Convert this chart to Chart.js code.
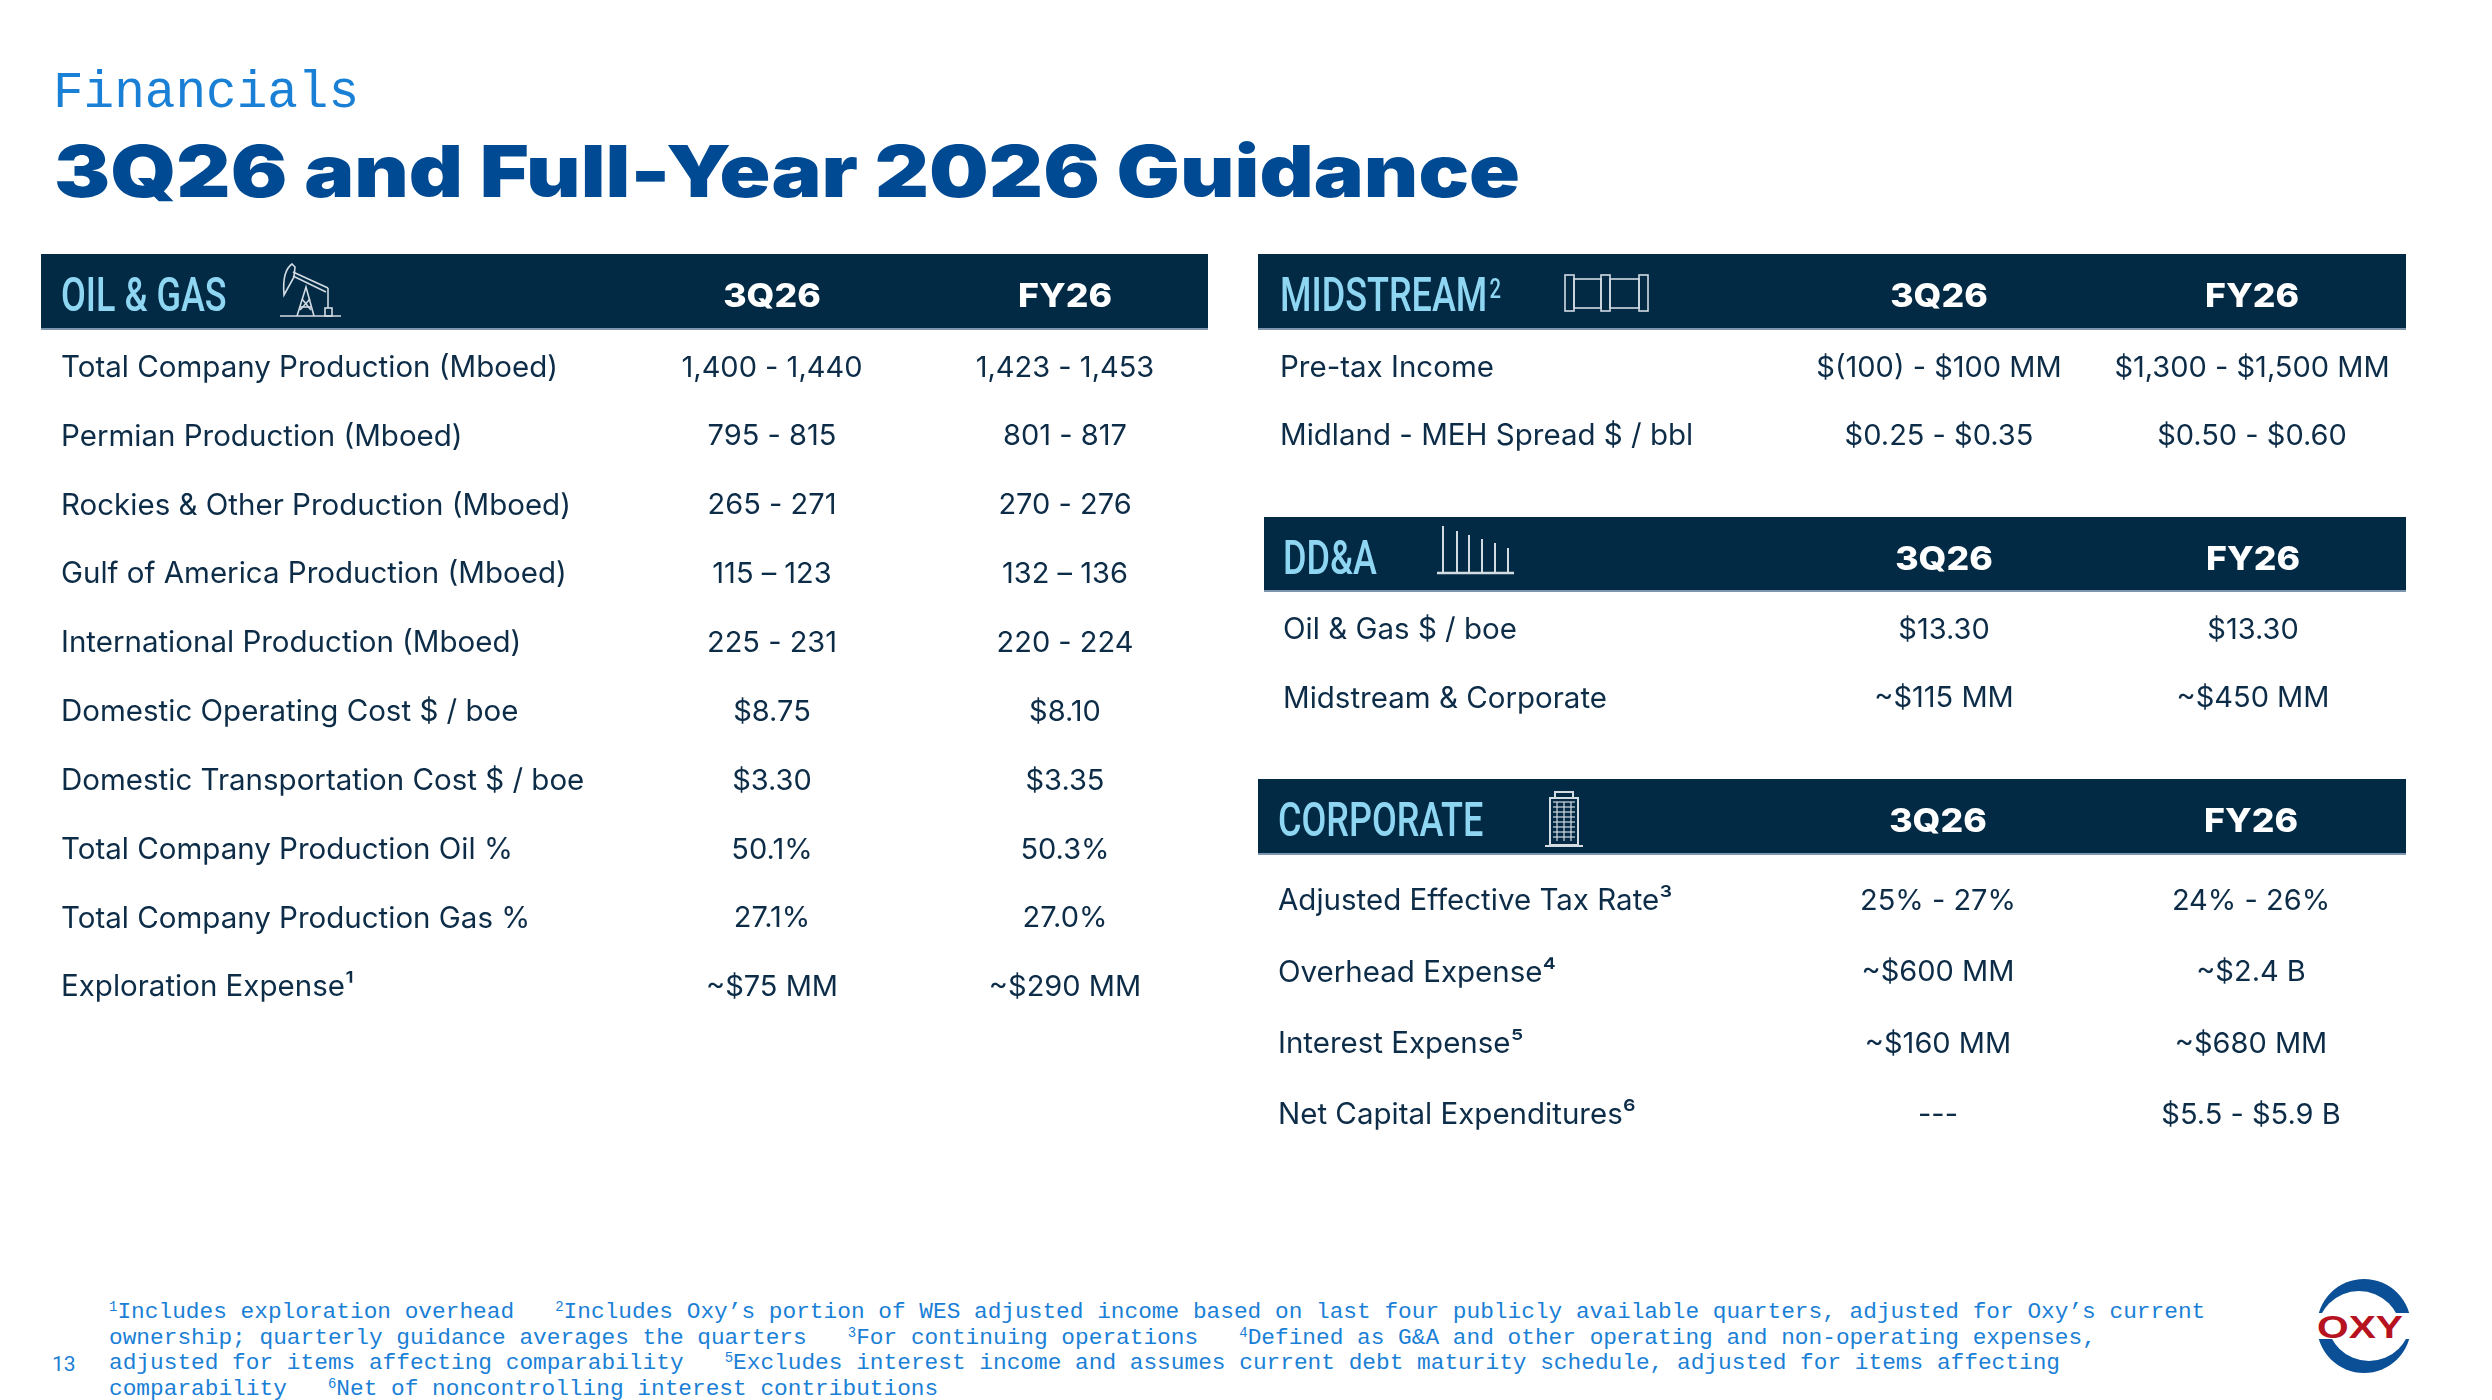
<!DOCTYPE html>
<html>
<head>
<meta charset="utf-8">
<title>3Q26 and Full-Year 2026 Guidance</title>
<script src="https://cdn.jsdelivr.net/npm/chart.js@4.4.1/dist/chart.umd.min.js"></script>
<style>
  html, body { margin: 0; padding: 0; background: #fff; }
  body { width: 2492px; height: 1400px; position: relative; overflow: hidden; }
  .kicker { position: absolute; left: 53px; top: 68px; font: 51px/51px "Liberation Mono", monospace; color: #1a80d6; white-space: nowrap; }
  .title { position: absolute; left: 54px; top: 135px; font: 900 72px/72px Inter, sans-serif; color: #004a93; white-space: nowrap; transform-origin: 0 0; }
  .tbl { position: absolute; }
  .notes { position: absolute; left: 109px; top: 1300px; font: 22.8px/25.5px "Liberation Mono", monospace; color: #1a80d6; white-space: pre; }
  .notes .s { font-size: 14px; line-height: 0; position: relative; top: -7px; }
  .page { position: absolute; left: 52px; top: 1354px; font: 21px/21px Roboto, sans-serif; color: #1a80d6; }
  .logo { position: absolute; left: 2300px; top: 1270px; }
</style>
</head>
<body>
<div class="kicker">Financials</div>
<div class="title" id="title">3Q26 and Full-Year 2026 Guidance</div>

<div class="tbl" style="left:41px; top:254px; width:1167px; height:788px;"><canvas id="oilGas"></canvas></div>
<div class="tbl" style="left:1258px; top:254px; width:1148px; height:236px;"><canvas id="midstream"></canvas></div>
<div class="tbl" style="left:1264px; top:517px; width:1142px; height:236px;"><canvas id="dda"></canvas></div>
<div class="tbl" style="left:1258px; top:779px; width:1148px; height:392px;"><canvas id="corporate"></canvas></div>

<div class="notes"><span class="s">1</span>Includes exploration overhead   <span class="s">2</span>Includes Oxy’s portion of WES adjusted income based on last four publicly available quarters, adjusted for Oxy’s current
ownership; quarterly guidance averages the quarters   <span class="s">3</span>For continuing operations   <span class="s">4</span>Defined as G&amp;A and other operating and non-operating expenses,
adjusted for items affecting comparability   <span class="s">5</span>Excludes interest income and assumes current debt maturity schedule, adjusted for items affecting
comparability   <span class="s">6</span>Net of noncontrolling interest contributions</div>
<div class="page">13</div>

<svg class="logo" width="130" height="130" viewBox="0 0 130 130">
  <defs>
    <clipPath id="topArc"><rect x="0" y="0" width="130" height="43"/></clipPath>
    <clipPath id="botArc"><rect x="0" y="69" width="130" height="61"/></clipPath>
  </defs>
  <g clip-path="url(#topArc)">
    <circle cx="64" cy="56" r="47" fill="#0b4f97"/>
    <circle cx="59" cy="63" r="42" fill="#fff"/>
  </g>
  <g clip-path="url(#botArc)">
    <circle cx="64" cy="56" r="47" fill="#0b4f97"/>
    <circle cx="69" cy="49" r="42" fill="#fff"/>
  </g>
  <text x="17" y="68" font-family="Liberation Sans, Arial, sans-serif" font-weight="700" font-size="31" fill="#b7121f" textLength="86" lengthAdjust="spacingAndGlyphs">OXY</text>
</svg>

<script>
// ---- data ----
const COLUMNS = ['3Q26', 'FY26'];

const oilGasItems = [
  'Total Company Production (Mboed)',
  'Permian Production (Mboed)',
  'Rockies & Other Production (Mboed)',
  'Gulf of America Production (Mboed)',
  'International Production (Mboed)',
  'Domestic Operating Cost $ / boe',
  'Domestic Transportation Cost $ / boe',
  'Total Company Production Oil %',
  'Total Company Production Gas %',
  'Exploration Expense¹'
];
const oilGas3Q = ['1,400 - 1,440', '795 - 815', '265 - 271', '115 – 123', '225 - 231', '$8.75', '$3.30', '50.1%', '27.1%', '~$75 MM'];
const oilGasFY = ['1,423 - 1,453', '801 - 817', '270 - 276', '132 – 136', '220 - 224', '$8.10', '$3.35', '50.3%', '27.0%', '~$290 MM'];

const midstreamItems = ['Pre-tax Income', 'Midland - MEH Spread $ / bbl'];
const midstream3Q = ['$(100) - $100 MM', '$0.25 - $0.35'];
const midstreamFY = ['$1,300 - $1,500 MM', '$0.50 - $0.60'];

const ddaItems = ['Oil & Gas $ / boe', 'Midstream & Corporate'];
const dda3Q = ['$13.30', '~$115 MM'];
const ddaFY = ['$13.30', '~$450 MM'];

const corporateItems = ['Adjusted Effective Tax Rate³', 'Overhead Expense⁴', 'Interest Expense⁵', 'Net Capital Expenditures⁶'];
const corporate3Q = ['25% - 27%', '~$600 MM', '~$160 MM', '---'];
const corporateFY = ['24% - 26%', '~$2.4 B', '~$680 MM', '$5.5 - $5.9 B'];

// ---- colours ----
const NAVY = '#032a45';
const RULE = '#7d96ad';
const NAME_BLUE = '#8fd6f2';
const TEXT = '#0d2c47';
const ICON = '#d3dbe3';

// fit the big title to the width it has on the slide
const titleEl = document.getElementById('title');
titleEl.style.transform = 'scaleX(' + (1466 / titleEl.offsetWidth) + ')';

// header bar: dark band, section name, icon, column names
const sectionHeader = {
  id: 'sectionHeader',
  beforeDraw(chart, args, o) {
    const ctx = chart.ctx;
    ctx.save();
    ctx.fillStyle = NAVY;
    ctx.fillRect(0, 0, chart.width, o.barH);
    ctx.fillStyle = RULE;
    ctx.fillRect(0, o.barH - 2, chart.width, 2);

    ctx.save();
    ctx.translate(o.nameX, 57);
    ctx.scale(0.75, 1);
    ctx.font = '500 48px Roboto';
    ctx.fillStyle = NAME_BLUE;
    ctx.textBaseline = 'alphabetic';
    ctx.fillText(o.name, 0, 0);
    if (o.sup) {
      const nw = ctx.measureText(o.name).width;
      ctx.font = '500 27px Roboto';
      ctx.fillText(o.sup, nw + 3, -13);
    }
    ctx.restore();

    ctx.strokeStyle = ICON;
    ctx.lineWidth = 1.6;
    o.icon(ctx);

    const xs = chart.scales.x;
    ctx.font = '800 33px Inter';
    ctx.fillStyle = '#ffffff';
    ctx.textAlign = 'center';
    ctx.textBaseline = 'alphabetic';
    COLUMNS.forEach((c, i) => {
      ctx.save();
      ctx.translate(xs.getPixelForValue(i), 53);
      ctx.scale(1.08, 1);
      ctx.fillText(c, 0, 0);
      ctx.restore();
    });
    ctx.restore();
  }
};

// cell values, written at each point the scales place
const cellText = {
  id: 'cellText',
  afterDatasetsDraw(chart) {
    const ctx = chart.ctx;
    ctx.save();
    ctx.font = '29px Inter';
    ctx.fillStyle = TEXT;
    ctx.textAlign = 'center';
    ctx.textBaseline = 'middle';
    chart.data.datasets.forEach((ds, i) => {
      chart.getDatasetMeta(i).data.forEach((pt, j) => {
        ctx.fillText(ds.cells[j], pt.x, pt.y);
      });
    });
    ctx.restore();
  }
};

function line(ctx, pts) {
  ctx.beginPath();
  ctx.moveTo(pts[0][0], pts[0][1]);
  for (let i = 1; i < pts.length; i++) ctx.lineTo(pts[i][0], pts[i][1]);
  ctx.stroke();
}

// icons (container coordinates)
function pumpjack(ctx) {
  ctx.save();
  ctx.translate(239, 9);
  line(ctx, [[0, 53], [61, 53]]);
  line(ctx, [[17, 53], [26, 24], [34, 53]]);
  line(ctx, [[20, 44], [32, 44]]);
  line(ctx, [[22, 36], [31, 47]]);
  line(ctx, [[30, 36], [20, 47]]);
  line(ctx, [[13, 9], [48, 25]]);
  line(ctx, [[13, 13], [46, 29]]);
  ctx.beginPath();
  ctx.moveTo(12, 1);
  ctx.quadraticCurveTo(2, 8, 4, 32);
  ctx.lineTo(14, 14);
  ctx.lineTo(15, 4);
  ctx.closePath();
  ctx.stroke();
  line(ctx, [[48, 25], [48, 45]]);
  ctx.strokeRect(45, 45, 7, 8);
  ctx.restore();
}

function pipe(ctx) {
  ctx.save();
  ctx.translate(307, 21);
  ctx.strokeRect(0, 0, 9, 36);
  ctx.strokeRect(9, 4, 27, 29);
  ctx.strokeRect(36, 0, 9, 36);
  ctx.strokeRect(45, 4, 29, 29);
  ctx.strokeRect(74, 0, 9, 36);
  ctx.restore();
}

function bars(ctx) {
  ctx.save();
  ctx.lineWidth = 2.5;
  line(ctx, [[173, 56], [250, 56]]);
  ctx.lineWidth = 2;
  const bx = [179, 193, 205, 218, 231, 244];
  const bt = [9, 14, 18, 22, 26, 31];
  bx.forEach((x, i) => line(ctx, [[x, bt[i]], [x, 56]]));
  ctx.restore();
}

function building(ctx) {
  ctx.save();
  ctx.lineWidth = 2;
  ctx.strokeRect(297, 13, 18, 6);
  ctx.strokeRect(292, 19, 28, 47);
  line(ctx, [[287, 67], [325, 67]]);
  ctx.lineWidth = 1.2;
  [299, 306, 313].forEach(x => line(ctx, [[x, 23], [x, 62]]));
  for (let y = 23; y <= 62; y += 5) line(ctx, [[295, y], [317, y]]);
  ctx.restore();
}

function makeTable(id, t) {
  return new Chart(document.getElementById(id), {
    type: 'scatter',
    data: {
      datasets: [t.q3, t.fy].map((cells, ci) => ({
        label: COLUMNS[ci],
        cells: cells,
        data: t.rows.map(r => ({ x: COLUMNS[ci], y: r })),
        pointRadius: 0,
        pointHoverRadius: 0
      }))
    },
    options: {
      responsive: true,
      maintainAspectRatio: false,
      animation: false,
      events: [],
      layout: { padding: t.pad },
      plugins: {
        legend: { display: false },
        tooltip: { enabled: false },
        sectionHeader: { name: t.name, sup: t.sup, icon: t.icon, barH: t.barH, nameX: t.pad.left }
      },
      scales: {
        x: { type: 'category', labels: COLUMNS, offset: false, display: false },
        y: {
          type: 'category',
          labels: t.rows,
          offset: true,
          grid: { display: false },
          border: { display: false },
          ticks: { autoSkip: false, crossAlign: 'far', padding: 0, color: TEXT, font: { family: 'Inter', size: 29.5 } },
          afterFit: s => { s.width = t.axisW; }
        }
      }
    },
    plugins: [sectionHeader, cellText]
  });
}

makeTable('oilGas', {
  name: 'OIL & GAS', icon: pumpjack, barH: 76,
  rows: oilGasItems, q3: oilGas3Q, fy: oilGasFY,
  pad: { left: 20, right: 143, top: 79.5, bottom: 20 }, axisW: 711
});
makeTable('midstream', {
  name: 'MIDSTREAM', sup: '2', icon: pipe, barH: 76,
  rows: midstreamItems, q3: midstream3Q, fy: midstreamFY,
  pad: { left: 22, right: 154, top: 80, bottom: 20 }, axisW: 659
});
makeTable('dda', {
  name: 'DD&A', icon: bars, barH: 75,
  rows: ddaItems, q3: dda3Q, fy: ddaFY,
  pad: { left: 19, right: 153, top: 78.5, bottom: 20 }, axisW: 661
});
makeTable('corporate', {
  name: 'CORPORATE', icon: building, barH: 76,
  rows: corporateItems, q3: corporate3Q, fy: corporateFY,
  pad: { left: 20, right: 155, top: 86.7, bottom: 20 }, axisW: 660
});
</script>
</body>
</html>
